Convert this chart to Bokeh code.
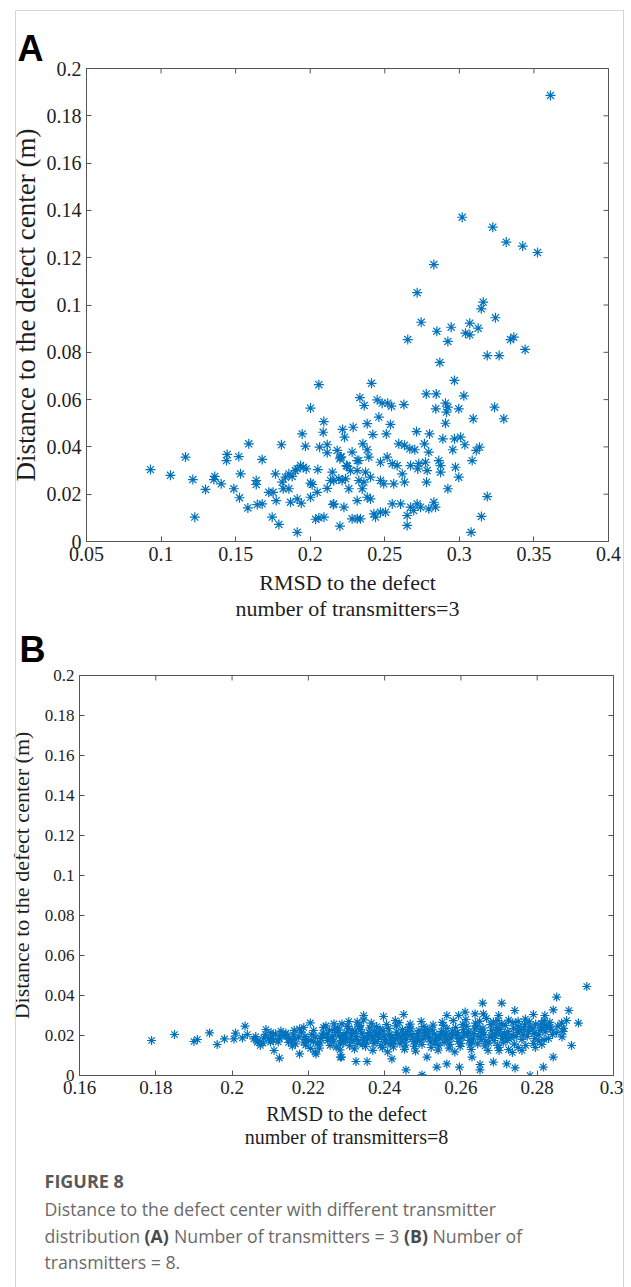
from bokeh.plotting import figure
from bokeh.models import Range1d, FixedTicker, CustomJSTickFormatter, Div
from bokeh.embed import file_html
from bokeh.resources import INLINE
from bokeh.core.properties import value

# ---------------- data ----------------
A_POINTS = [
    (0.3611, 0.1886), (0.3019, 0.1371), (0.3224, 0.1329), (0.3314, 0.1266), (0.3425, 0.1249),
    (0.3524, 0.1222), (0.2829, 0.1171), (0.2717, 0.1052), (0.3160, 0.1012), (0.3147, 0.0984),
    (0.3242, 0.0946), (0.2744, 0.0927), (0.2945, 0.0906), (0.3070, 0.0923), (0.3126, 0.0902),
    (0.3041, 0.0881), (0.3070, 0.0874), (0.2849, 0.0889), (0.2923, 0.0846), (0.2654, 0.0854),
    (0.3343, 0.0854), (0.3365, 0.0864), (0.3441, 0.0812), (0.3187, 0.0786), (0.3267, 0.0786),
    (0.2869, 0.0757), (0.2411, 0.0669), (0.2967, 0.0681), (0.2778, 0.0624), (0.2845, 0.0624),
    (0.3030, 0.0616), (0.2333, 0.0608), (0.2362, 0.0575), (0.2449, 0.0599), (0.2482, 0.0585),
    (0.2520, 0.0585), (0.2545, 0.0572), (0.2628, 0.0579), (0.2842, 0.0561), (0.2907, 0.0585),
    (0.2923, 0.0568), (0.2914, 0.0547), (0.2996, 0.0561), (0.3236, 0.0568), (0.2907, 0.0500),
    (0.3093, 0.0519), (0.3298, 0.0519), (0.2460, 0.0526), (0.2382, 0.0498), (0.2538, 0.0495),
    (0.2217, 0.0474), (0.2230, 0.0441), (0.2288, 0.0483), (0.2420, 0.0452), (0.2510, 0.0455),
    (0.2713, 0.0465), (0.2800, 0.0455), (0.2889, 0.0434), (0.2967, 0.0434), (0.3008, 0.0441),
    (0.3037, 0.0409), (0.3113, 0.0385), (0.3135, 0.0399), (0.3086, 0.0342), (0.2956, 0.0388),
    (0.2766, 0.0413), (0.2795, 0.0378), (0.2594, 0.0413), (0.2632, 0.0407), (0.2668, 0.0392),
    (0.2701, 0.0388), (0.2353, 0.0413), (0.2382, 0.0388), (0.2281, 0.0378), (0.2203, 0.0357),
    (0.2326, 0.0342), (0.2393, 0.0357), (0.2471, 0.0335), (0.2516, 0.0357), (0.2550, 0.0329),
    (0.2583, 0.0321), (0.2673, 0.0321), (0.2728, 0.0329), (0.2773, 0.0335), (0.2862, 0.0342),
    (0.2874, 0.0321), (0.2974, 0.0314), (0.2996, 0.0272), (0.2874, 0.0293), (0.2784, 0.0300),
    (0.2721, 0.0307), (0.2243, 0.0321), (0.2270, 0.0300), (0.2371, 0.0293), (0.2404, 0.0272),
    (0.2617, 0.0286), (0.2632, 0.0251), (0.2471, 0.0258), (0.2493, 0.0244), (0.2560, 0.0244),
    (0.2360, 0.0251), (0.2349, 0.0223), (0.2259, 0.0223), (0.2780, 0.0251), (0.2923, 0.0223),
    (0.3187, 0.0190), (0.2404, 0.0180), (0.2382, 0.0187), (0.2315, 0.0173), (0.2158, 0.0159),
    (0.2226, 0.0145), (0.2550, 0.0159), (0.2606, 0.0159), (0.2673, 0.0145), (0.2717, 0.0159),
    (0.2740, 0.0145), (0.2795, 0.0138), (0.2829, 0.0166), (0.2840, 0.0145), (0.2427, 0.0117),
    (0.2438, 0.0103), (0.2471, 0.0124), (0.2505, 0.0124), (0.2281, 0.0096), (0.2315, 0.0096),
    (0.2337, 0.0096), (0.2650, 0.0110), (0.2650, 0.0068), (0.2694, 0.0131), (0.2199, 0.0065),
    (0.3148, 0.0106), (0.3079, 0.0039),
    (0.0929, 0.0304), (0.1063, 0.0280), (0.1164, 0.0357), (0.1213, 0.0262), (0.1226, 0.0103),
    (0.1298, 0.0220), (0.1360, 0.0275), (0.1354, 0.0262), (0.1403, 0.0244), (0.1443, 0.0368),
    (0.1439, 0.0342), (0.1488, 0.0223), (0.1521, 0.0359), (0.1533, 0.0286), (0.1526, 0.0185),
    (0.1582, 0.0142), (0.1588, 0.0413), (0.1638, 0.0258), (0.1638, 0.0241), (0.1645, 0.0156),
    (0.1678, 0.0159), (0.1678, 0.0347), (0.1722, 0.0208), (0.1751, 0.0208), (0.1745, 0.0103),
    (0.1790, 0.0072), (0.1772, 0.0173), (0.1767, 0.0286), (0.1807, 0.0409), (0.1812, 0.0251),
    (0.1834, 0.0272), (0.1819, 0.0223), (0.1857, 0.0223), (0.1868, 0.0166), (0.1857, 0.0286),
    (0.1879, 0.0275), (0.1901, 0.0300), (0.1913, 0.0307), (0.1935, 0.0321), (0.1953, 0.0314),
    (0.1973, 0.0307), (0.1913, 0.0039), (0.1913, 0.0180), (0.1940, 0.0162), (0.1946, 0.0455),
    (0.1968, 0.0403), (0.2002, 0.0564), (0.2002, 0.0247), (0.2013, 0.0241), (0.2002, 0.0187),
    (0.2047, 0.0208), (0.2051, 0.0304), (0.2058, 0.0663), (0.2063, 0.0399), (0.2036, 0.0094),
    (0.2058, 0.0100), (0.2092, 0.0103), (0.2087, 0.0462), (0.2091, 0.0507), (0.2114, 0.0409),
    (0.2114, 0.0375), (0.2114, 0.0225), (0.2148, 0.0293), (0.2136, 0.0258), (0.2158, 0.0258),
    (0.2154, 0.0156), (0.2181, 0.0385), (0.2192, 0.0265), (0.2214, 0.0258), (0.2237, 0.0265),
    (0.2199, 0.0350), (0.2208, 0.0357), (0.2249, 0.0318), (0.2315, 0.0342), (0.2315, 0.0300),
    (0.2326, 0.0258),
]

B_POINTS = [
    # sparse left tail
    (0.1789, 0.0175), (0.1849, 0.0205), (0.1900, 0.0170), (0.1909, 0.0180), (0.1941, 0.0213),
    (0.1961, 0.0155), (0.1980, 0.0183), (0.2005, 0.0183), (0.2009, 0.0212), (0.2027, 0.0188),
    (0.2034, 0.0247), (0.2040, 0.0205), (0.2057, 0.0183), (0.2066, 0.0167), (0.2074, 0.0150),
    (0.2089, 0.0230), (0.2096, 0.0183), (0.2101, 0.0167), (0.2110, 0.0125), (0.2124, 0.0087),
    (0.2114, 0.0208), (0.2131, 0.0200), (0.2140, 0.0205), (0.2149, 0.0183), (0.2157, 0.0175),
    (0.2166, 0.0158), (0.2175, 0.0192), (0.2177, 0.0233), (0.2182, 0.0217), (0.2188, 0.0167),
    (0.2177, 0.0108), (0.2201, 0.0175), (0.2205, 0.0263), (0.2214, 0.0225), (0.2218, 0.0192),
    (0.2223, 0.0158), (0.2220, 0.0108),
    # upper and lower outliers
    (0.2930, 0.0445), (0.2851, 0.0392), (0.2657, 0.0362), (0.2707, 0.0362), (0.2842, 0.0328),
    (0.2883, 0.0325), (0.2741, 0.0325), (0.2611, 0.0317), (0.2637, 0.0308), (0.2659, 0.0308),
    (0.2563, 0.0300), (0.2594, 0.0300), (0.2699, 0.0300), (0.2697, 0.0275), (0.2790, 0.0305),
    (0.2820, 0.0300), (0.2877, 0.0275), (0.2908, 0.0262), (0.2864, 0.0262), (0.2868, 0.0220),
    (0.2812, 0.0242), (0.2825, 0.0242), (0.2834, 0.0242), (0.2450, 0.0305), (0.2397, 0.0295),
    (0.2345, 0.0300), (0.2345, 0.0278), (0.2306, 0.0270), (0.2328, 0.0267), (0.2288, 0.0258),
    (0.2890, 0.0150), (0.2842, 0.0092), (0.2816, 0.0042), (0.2781, 0.0000), (0.2742, 0.0038),
    (0.2720, 0.0058), (0.2685, 0.0067), (0.2650, 0.0028), (0.2650, 0.0055), (0.2629, 0.0092),
    (0.2596, 0.0042), (0.2563, 0.0058), (0.2537, 0.0042), (0.2498, 0.0003), (0.2456, 0.0028),
    (0.2354, 0.0070), (0.2325, 0.0070), (0.2287, 0.0092), (0.2419, 0.0083), (0.2511, 0.0092),
    (0.2218, 0.0117), (0.2284, 0.0092), (0.2267, 0.0258), (0.2428, 0.0275),
    # lower branch on the right
    (0.2700, 0.0125), (0.2725, 0.0130), (0.2750, 0.0140), (0.2770, 0.0150), (0.2790, 0.0160),
    (0.2805, 0.0172), (0.2818, 0.0180), (0.2830, 0.0185), (0.2760, 0.0125), (0.2735, 0.0115),
    (0.2795, 0.0140), (0.2812, 0.0155),
    # dense core
    (0.2062, 0.0195), (0.2068, 0.0174), (0.2083, 0.0188), (0.2088, 0.0206), (0.2081, 0.0162),
    (0.2104, 0.0197), (0.2108, 0.0178), (0.2102, 0.0215), (0.2124, 0.0186), (0.2128, 0.0222),
    (0.2121, 0.0168), (0.2144, 0.0194), (0.2148, 0.0165), (0.2141, 0.0212), (0.2161, 0.0203),
    (0.2165, 0.0182), (0.2158, 0.0148), (0.2163, 0.0226), (0.2191, 0.0196), (0.2195, 0.0181),
    (0.2188, 0.0240), (0.2193, 0.0152), (0.2209, 0.0204), (0.2213, 0.0170), (0.2206, 0.0136),
    (0.2233, 0.0185), (0.2238, 0.0212), (0.2231, 0.0163), (0.2240, 0.0241), (0.2236, 0.0198),
    (0.2229, 0.0137), (0.2251, 0.0176), (0.2255, 0.0224), (0.2248, 0.0205), (0.2257, 0.0151),
    (0.2253, 0.0190), (0.2246, 0.0248), (0.2266, 0.0168), (0.2271, 0.0215), (0.2264, 0.0193),
    (0.2269, 0.0231), (0.2273, 0.0142), (0.2262, 0.0182), (0.2281, 0.0201), (0.2286, 0.0176),
    (0.2279, 0.0228), (0.2284, 0.0157), (0.2288, 0.0189), (0.2277, 0.0239), (0.2283, 0.0128),
    (0.2296, 0.0192), (0.2300, 0.0214), (0.2293, 0.0165), (0.2298, 0.0178), (0.2302, 0.0246),
    (0.2291, 0.0203), (0.2310, 0.0183), (0.2315, 0.0226), (0.2308, 0.0149), (0.2313, 0.0207),
    (0.2317, 0.0170), (0.2306, 0.0235), (0.2325, 0.0196), (0.2330, 0.0161), (0.2323, 0.0218),
    (0.2328, 0.0180), (0.2332, 0.0244), (0.2321, 0.0133), (0.2340, 0.0209), (0.2344, 0.0174),
    (0.2337, 0.0229), (0.2342, 0.0155), (0.2346, 0.0190), (0.2335, 0.0251), (0.2355, 0.0186),
    (0.2359, 0.0215), (0.2352, 0.0167), (0.2357, 0.0201), (0.2361, 0.0238), (0.2350, 0.0145),
    (0.2370, 0.0178), (0.2374, 0.0222), (0.2367, 0.0195), (0.2372, 0.0159), (0.2376, 0.0207),
    (0.2365, 0.0262), (0.2369, 0.0126), (0.2384, 0.0189), (0.2388, 0.0232), (0.2381, 0.0170),
    (0.2386, 0.0211), (0.2390, 0.0150), (0.2379, 0.0245), (0.2399, 0.0198), (0.2403, 0.0163),
    (0.2396, 0.0224), (0.2401, 0.0181), (0.2405, 0.0255), (0.2394, 0.0139), (0.2413, 0.0206),
    (0.2417, 0.0175), (0.2410, 0.0236), (0.2415, 0.0157), (0.2419, 0.0192), (0.2408, 0.0118),
    (0.2428, 0.0185), (0.2432, 0.0217), (0.2425, 0.0168), (0.2430, 0.0248), (0.2434, 0.0201),
    (0.2423, 0.0143), (0.2443, 0.0193), (0.2447, 0.0229), (0.2440, 0.0160), (0.2445, 0.0177),
    (0.2449, 0.0211), (0.2438, 0.0264), (0.2457, 0.0180), (0.2461, 0.0220), (0.2454, 0.0152),
    (0.2459, 0.0199), (0.2463, 0.0241), (0.2452, 0.0131), (0.2472, 0.0205), (0.2476, 0.0171),
    (0.2469, 0.0233), (0.2474, 0.0188), (0.2478, 0.0146), (0.2467, 0.0257), (0.2486, 0.0194),
    (0.2490, 0.0226), (0.2483, 0.0164), (0.2488, 0.0210), (0.2492, 0.0178), (0.2481, 0.0122),
    (0.2501, 0.0186), (0.2505, 0.0218), (0.2498, 0.0155), (0.2503, 0.0244), (0.2507, 0.0201),
    (0.2496, 0.0270), (0.2516, 0.0197), (0.2520, 0.0168), (0.2513, 0.0231), (0.2518, 0.0183),
    (0.2522, 0.0140), (0.2511, 0.0213), (0.2530, 0.0207), (0.2534, 0.0175), (0.2527, 0.0252),
    (0.2532, 0.0159), (0.2536, 0.0190), (0.2525, 0.0228), (0.2545, 0.0184), (0.2549, 0.0221),
    (0.2542, 0.0149), (0.2547, 0.0203), (0.2551, 0.0266), (0.2540, 0.0127), (0.2559, 0.0195),
    (0.2563, 0.0236), (0.2556, 0.0166), (0.2561, 0.0212), (0.2565, 0.0178), (0.2554, 0.0250),
    (0.2574, 0.0188), (0.2578, 0.0223), (0.2571, 0.0156), (0.2576, 0.0204), (0.2580, 0.0274),
    (0.2569, 0.0137), (0.2589, 0.0199), (0.2593, 0.0170), (0.2586, 0.0240), (0.2591, 0.0215),
    (0.2595, 0.0183), (0.2584, 0.0118), (0.2603, 0.0191), (0.2607, 0.0229), (0.2600, 0.0161),
    (0.2605, 0.0256), (0.2609, 0.0208), (0.2598, 0.0145), (0.2618, 0.0202), (0.2622, 0.0176),
    (0.2615, 0.0247), (0.2620, 0.0218), (0.2624, 0.0153), (0.2613, 0.0280), (0.2632, 0.0187),
    (0.2636, 0.0233), (0.2629, 0.0167), (0.2634, 0.0209), (0.2638, 0.0262), (0.2627, 0.0130),
    (0.2647, 0.0196), (0.2651, 0.0221), (0.2644, 0.0158), (0.2649, 0.0271), (0.2653, 0.0180),
    (0.2642, 0.0244), (0.2661, 0.0205), (0.2665, 0.0172), (0.2658, 0.0237), (0.2663, 0.0148),
    (0.2667, 0.0286), (0.2656, 0.0214), (0.2676, 0.0190), (0.2680, 0.0226), (0.2673, 0.0163),
    (0.2678, 0.0254), (0.2682, 0.0201), (0.2671, 0.0125), (0.2690, 0.0198), (0.2694, 0.0242),
    (0.2687, 0.0175), (0.2692, 0.0216), (0.2696, 0.0150), (0.2685, 0.0268), (0.2705, 0.0207),
    (0.2709, 0.0184), (0.2702, 0.0231), (0.2707, 0.0259), (0.2711, 0.0166), (0.2700, 0.0140),
    (0.2719, 0.0193), (0.2723, 0.0220), (0.2716, 0.0249), (0.2721, 0.0176), (0.2725, 0.0277),
    (0.2714, 0.0208), (0.2734, 0.0202), (0.2738, 0.0236), (0.2731, 0.0189), (0.2736, 0.0264),
    (0.2740, 0.0157), (0.2748, 0.0214), (0.2752, 0.0244), (0.2745, 0.0195), (0.2750, 0.0271),
    (0.2754, 0.0227), (0.2763, 0.0206), (0.2767, 0.0253), (0.2760, 0.0181), (0.2765, 0.0232),
    (0.2769, 0.0282), (0.2777, 0.0219), (0.2781, 0.0245), (0.2774, 0.0196), (0.2779, 0.0268),
    (0.2792, 0.0211), (0.2796, 0.0257), (0.2789, 0.0233), (0.2794, 0.0186), (0.2807, 0.0226),
    (0.2811, 0.0262), (0.2804, 0.0203), (0.2821, 0.0218), (0.2825, 0.0249), (0.2818, 0.0275),
    (0.2836, 0.0231), (0.2840, 0.0205), (0.2833, 0.0266), (0.2850, 0.0214), (0.2854, 0.0247),
    (0.2865, 0.0193), (0.2869, 0.0236),
]

A_X_TICKS = [0.05, 0.1, 0.15, 0.2, 0.25, 0.3, 0.35, 0.4]
B_X_TICKS = [0.16, 0.18, 0.2, 0.22, 0.24, 0.26, 0.28, 0.3]
Y_TICKS = [0, 0.02, 0.04, 0.06, 0.08, 0.1, 0.12, 0.14, 0.16, 0.18, 0.2]
A_X_RANGE = (0.05, 0.4)
B_X_RANGE = (0.16, 0.3)
Y_RANGE = (0, 0.2)

Y_LABEL = "Distance to the defect center (m)"
A_X_LABEL = "RMSD to the defect\nnumber of transmitters=3"
B_X_LABEL = "RMSD to the defect\nnumber of transmitters=8"

CAPTION_HEAD = "FIGURE 8"
CAPTION_L1 = "Distance to the defect center with different transmitter"
CAPTION_L2 = ["distribution", "(A)", "Number of transmitters = 3", "(B)", "Number of"]
CAPTION_L3 = "transmitters = 8."

# ---------------- style ----------------
SERIF = "Liberation Serif"
BLUE = "#0072BD"
AXC = "#555555"
TXT = "#1e1e1e"
TICK_PX = 5

fmt_js = "return String(Math.round(tick*1000)/1000);"


def style_axis(ax, ticks, fs):
    ax.ticker = FixedTicker(ticks=ticks)
    ax.formatter = CustomJSTickFormatter(code=fmt_js)
    ax.axis_line_color = AXC
    ax.major_tick_line_color = AXC
    ax.major_tick_in = TICK_PX
    ax.major_tick_out = 0
    ax.minor_tick_line_color = None
    ax.major_label_text_font = SERIF
    ax.major_label_text_color = TXT
    ax.major_label_standoff = 5
    ax.major_label_text_font_size = fs


def panel(points, xr, xticks, xlabel, letter, fw, fh, bl, br, bt, bb,
          xtick_fs, ytick_fs, xlab_fs, ylab_fs, ylab_standoff, msize,
          letter_offset, letter_standoff, margin):
    p = figure(frame_width=fw, frame_height=fh,
               x_range=Range1d(*xr), y_range=Range1d(*Y_RANGE),
               min_border_left=bl, min_border_right=br,
               min_border_top=bt, min_border_bottom=bb,
               toolbar_location=None, output_backend="svg", title=letter,
               margin=margin)
    p.grid.visible = False
    p.outline_line_color = AXC
    p.background_fill_color = "white"
    p.border_fill_color = "white"

    xs = [pt[0] for pt in points]
    ys = [pt[1] for pt in points]
    p.scatter(xs, ys, marker="asterisk", size=msize, line_color=BLUE, line_width=1.2)

    style_axis(p.xaxis[0], xticks, xtick_fs)
    style_axis(p.yaxis[0], Y_TICKS, ytick_fs)
    p.xaxis[0].axis_label = xlabel
    p.yaxis[0].axis_label = Y_LABEL
    for ax, fs in ((p.xaxis[0], xlab_fs), (p.yaxis[0], ylab_fs)):
        ax.axis_label_text_font = SERIF
        ax.axis_label_text_font_size = fs
        ax.axis_label_text_font_style = "normal"
        ax.axis_label_text_color = TXT
    p.xaxis[0].axis_label_standoff = 6
    p.yaxis[0].axis_label_standoff = ylab_standoff
    p.xaxis[0].axis_label_text_line_height = 1.05

    # inward ticks on the top and right edges of the box
    x0, x1 = xr
    y0, y1 = Y_RANGE
    dy = TICK_PX * (y1 - y0) / fh
    dx = TICK_PX * (x1 - x0) / fw
    p.segment(x0=xticks, y0=[y1] * len(xticks), x1=xticks, y1=[y1 - dy] * len(xticks),
              line_color=AXC, line_width=1)
    p.segment(x0=[x1] * len(Y_TICKS), y0=Y_TICKS, x1=[x1 - dx] * len(Y_TICKS), y1=Y_TICKS,
              line_color=AXC, line_width=1)

    t = p.title
    t.text_font = "Liberation Sans"
    t.text_font_size = "36px"
    t.text_font_style = "bold"
    t.text_color = "#000000"
    t.align = "left"
    t.offset = letter_offset
    t.standoff = letter_standoff
    return p


pa = panel(A_POINTS, A_X_RANGE, A_X_TICKS, A_X_LABEL, "A",
           fw=522, fh=473, bl=84, br=13, bt=62, bb=89,
           xtick_fs="20px", ytick_fs="20px", xlab_fs="22px", ylab_fs="27px", ylab_standoff=3,
           msize=10, letter_offset=-69, letter_standoff=0, margin=(6, 0, 0, 2))

pb = panel(B_POINTS, B_X_RANGE, B_X_TICKS, B_X_LABEL, "B",
           fw=534, fh=400, bl=72, br=10, bt=55, bb=85,
           xtick_fs="19px", ytick_fs="17px", xlab_fs="20px", ylab_fs="22px", ylab_standoff=8,
           msize=9, letter_offset=-60, letter_standoff=11, margin=(-10, 0, 0, 5))

# caption block
CW, CH = 610, 127
pc = figure(width=CW, height=CH, x_range=Range1d(0, CW), y_range=Range1d(CH, 0),
            min_border=0, toolbar_location=None, output_backend="svg",
            x_axis_location=None, y_axis_location=None, title=None,
            margin=(0, 0, 0, 11))
pc.grid.visible = False
pc.outline_line_color = None
cap_font = value("Open Sans")
pc.text(x=[33], y=[20], text=[CAPTION_HEAD], text_font=cap_font, text_font_size="18px",
        text_font_style="bold", text_color="#595959", text_baseline="middle")
pc.text(x=[33, 33], y=[48, 101], text=[CAPTION_L1, CAPTION_L3], text_font=cap_font,
        text_font_size="17.7px", text_color="#6a6a6a", text_baseline="middle")
seg_x = [33, 133, 162.5, 392.5, 421]
bold = [False, True, False, True, False]
pc.text(x=[sx for sx, b in zip(seg_x, bold) if not b],
        y=[75] * 3,
        text=[t for t, b in zip(CAPTION_L2, bold) if not b],
        text_font=cap_font, text_font_size="17.7px", text_color="#6a6a6a",
        text_baseline="middle")
pc.text(x=[sx for sx, b in zip(seg_x, bold) if b],
        y=[75] * 2,
        text=[t for t, b in zip(CAPTION_L2, bold) if b],
        text_font=cap_font, text_font_size="17.7px", text_font_style="bold",
        text_color="#4a4a4a", text_baseline="middle")

frame_box = Div(text="", width=609, height=1290,
                styles={"position": "absolute", "left": "10px", "top": "5px",
                        "border": "1px solid #d6d6d6", "pointer-events": "none",
                        "background": "transparent", "z-index": "5"})

open("out.html", "w").write(file_html([pa, pb, pc, frame_box], INLINE))
